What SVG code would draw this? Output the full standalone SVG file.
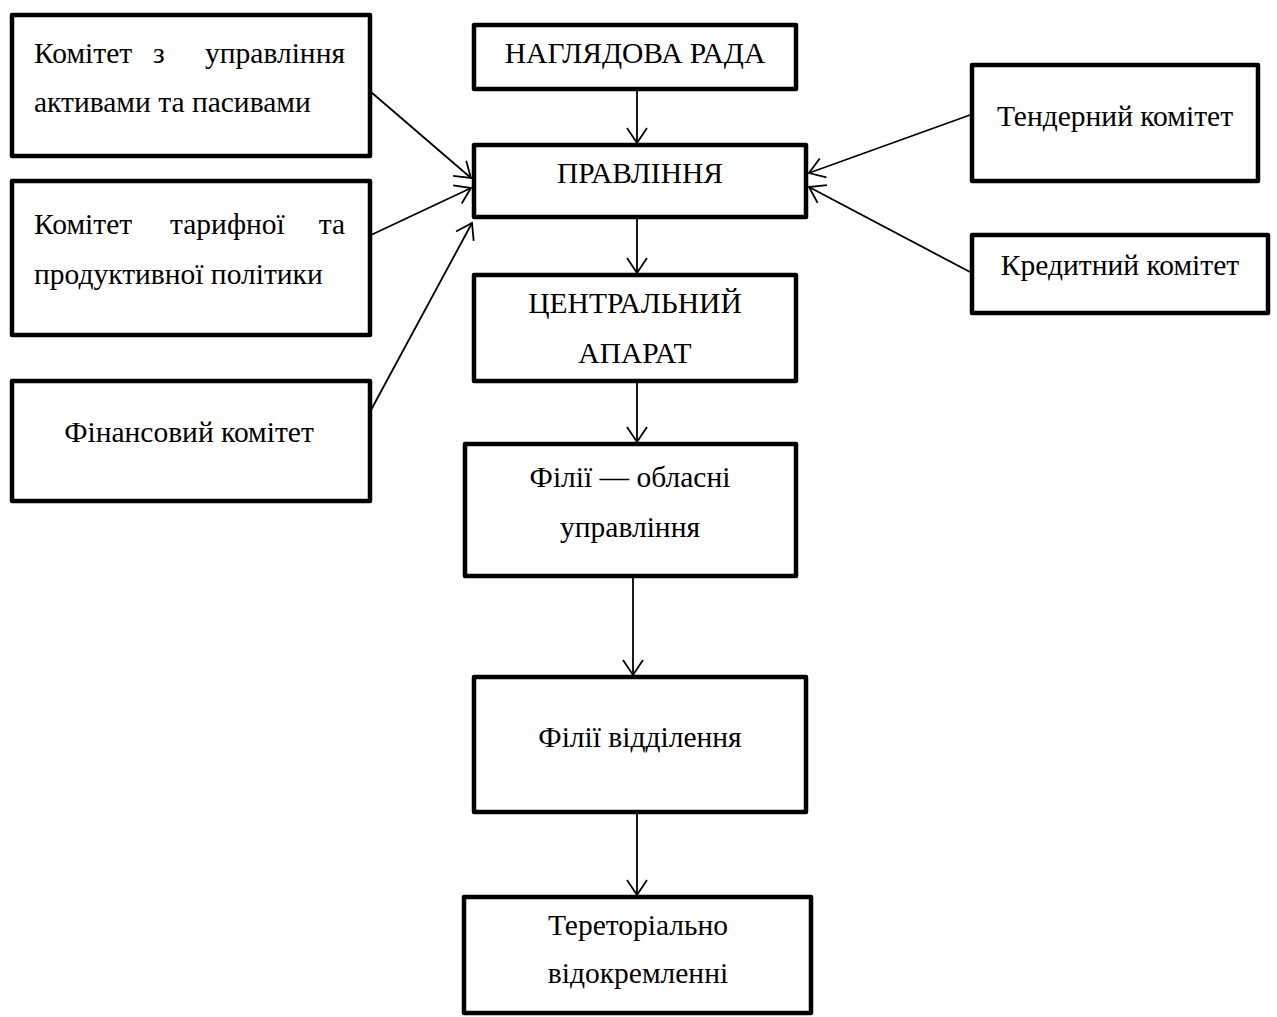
<svg xmlns="http://www.w3.org/2000/svg" width="1277" height="1017" viewBox="0 0 1277 1017">
<defs>
<marker id="arr" markerUnits="userSpaceOnUse" markerWidth="40" markerHeight="40" refX="0" refY="0" viewBox="-20 -20 40 40" orient="auto" overflow="visible">
<path d="M-15,-10 L0,0 L-15,10" fill="none" stroke="#000" stroke-width="1.8"/>
</marker>
<style>
.box{fill:#fff;stroke:#000;stroke-width:4.5;stroke-linejoin:round}
.t{font-family:"Liberation Serif","Times New Roman",serif;font-size:29.5px;fill:#000}
.c{text-anchor:middle}
.con line{stroke:#000;stroke-width:1.8;marker-end:url(#arr)}
</style>
</defs>
<rect width="1277" height="1017" fill="#fff"/>
<g id="n-alm"><rect class="box" x="12" y="15" width="358" height="141"/>
<text class="t" y="63"><tspan x="34">Комітет</tspan><tspan x="153">з</tspan><tspan x="345" text-anchor="end">управління</tspan></text>
<text class="t" x="34" y="112">активами та пасивами</text></g>
<g id="n-tariff"><rect class="box" x="12" y="181" width="358" height="154"/>
<text class="t" y="234"><tspan x="34">Комітет</tspan><tspan x="170">тарифної</tspan><tspan x="345" text-anchor="end">та</tspan></text>
<text class="t" x="34" y="284">продуктивної політики</text></g>
<g id="n-fin"><rect class="box" x="12" y="381" width="358" height="120"/>
<text class="t c" x="189" y="442">Фінансовий комітет</text></g>
<g id="n-rada"><rect class="box" x="474" y="25" width="322" height="64"/>
<text class="t c" x="635" y="63">НАГЛЯДОВА РАДА</text></g>
<g id="n-pravl"><rect class="box" x="474" y="145" width="332" height="72"/>
<text class="t c" x="640" y="183">ПРАВЛІННЯ</text></g>
<g id="n-central"><rect class="box" x="474" y="275" width="322" height="106"/>
<text class="t c" x="635" y="313">ЦЕНТРАЛЬНИЙ</text>
<text class="t c" x="635" y="363">АПАРАТ</text></g>
<g id="n-filii"><rect class="box" x="465" y="444" width="331" height="132"/>
<text class="t c" x="630" y="487">Філії — обласні</text>
<text class="t c" x="630" y="537">управління</text></g>
<g id="n-viddil"><rect class="box" x="474" y="677" width="332" height="135"/>
<text class="t c" x="640" y="747">Філії відділення</text></g>
<g id="n-teret"><rect class="box" x="464" y="897" width="347" height="116"/>
<text class="t c" x="638" y="935">Тереторіально</text>
<text class="t c" x="638" y="983">відокремленні</text></g>
<g id="n-tender"><rect class="box" x="972" y="65" width="286" height="116"/>
<text class="t c" x="1115" y="126">Тендерний комітет</text></g>
<g id="n-credit"><rect class="box" x="972" y="235" width="296" height="78"/>
<text class="t c" x="1120" y="275">Кредитний комітет</text></g>
<g id="connectors" class="con">
<line x1="637" y1="89" x2="637" y2="143"/>
<line x1="637" y1="217" x2="637" y2="273"/>
<line x1="637" y1="381" x2="637" y2="442"/>
<line x1="633" y1="576" x2="633" y2="675"/>
<line x1="637" y1="812" x2="637" y2="895"/>
<line x1="371" y1="92" x2="471" y2="178"/>
<line x1="371" y1="235" x2="471" y2="188"/>
<line x1="371" y1="410" x2="472" y2="223"/>
<line x1="970" y1="115" x2="809" y2="173"/>
<line x1="970" y1="272" x2="809" y2="187"/>
</g>
</svg>
